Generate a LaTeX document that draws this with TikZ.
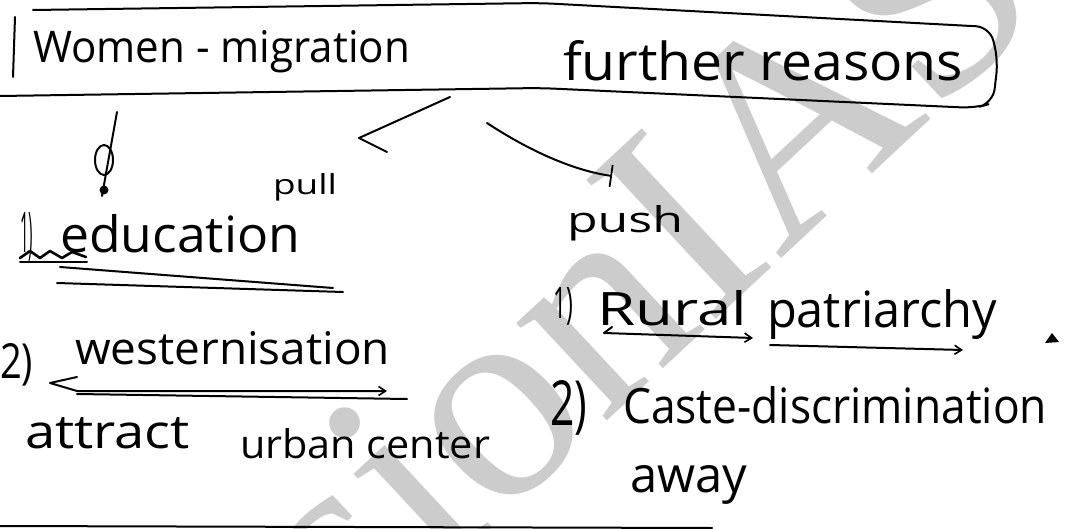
\documentclass[tikz,border=0pt]{standalone}
\usepackage{fontspec}
\setmainfont{Open Sans}
\newfontfamily\wmfont{Liberation Serif}
\usetikzlibrary{arrows.meta}
\newcommand{\fitwh}[3]{\resizebox{#1}{#2}{#3}}
\begin{document}
\begin{tikzpicture}[x=1pt,y=-1pt,
  hw/.style={anchor=base west, inner sep=0pt, outer sep=0pt, text=black},
  pen/.style={line width=2pt, line cap=round, line join=round, draw=black},
  tip/.style={-{Straight Barb[length=7pt,width=9pt,line width=1.6pt]}},
  wmark/.style={text=black!20, inner sep=0pt, font=\wmfont\fontsize{290}{290}\selectfont}]
\useasboundingbox (0,0) rectangle (1083,529);
\fill[white] (0,0) rectangle (1083,529);
% watermark
\node[wmark, rotate=43] (wm) at (539,356) {VisionIAS};
% title box
\node[hw] (t1) at (33,63) {\fitwh{377pt}{32pt}{Women - migration}};
\node[hw] (t2) at (563,81) {\fitwh{400pt}{40pt}{further reasons}};
\draw[pen, rounded corners=14pt] (33,10) -- (540,3) -- (990,27) -- (998,60) -- (993,103) -- (975,108) -- (540,88) -- (0,96);
\draw[pen] (15,17) -- (13,77);
% arrows to pull / push
\coordinate (a1s) at (450,97);
\coordinate (a1e) at (359,138);
\draw[pen] (a1s) -- (a1e) -- ++(28,14);
\coordinate (a2s) at (487,123);
\coordinate (a2e) at (612,176);
\draw[pen, -{Bar[width=22pt,line width=1.8pt]}] (a2s) .. controls (525,148) and (570,170) .. (a2e);
% pull column
\node[hw] (pull) at (273,195) {\fitwh{64pt}{21pt}{pull}};
\draw[pen] (117,112) -- (102,196);
\draw[pen] (104,160) ellipse [x radius=9, y radius=15];
\fill (104,190) circle [radius=4.5];
\node[hw] (p1n) at (20,253) {\fitwh{13pt}{40pt}{1)}};
\node[hw] (p1) at (60,252) {\fitwh{240pt}{38pt}{education}};
\draw[pen, line width=2.6pt] (20,258) -- (30,251) -- (40,258) -- (50,251) -- (62,258) -- (72,252) -- (86,257);
\draw[pen] (20,262) -- (87,262);
\draw[pen] (60,267) -- (333,288);
\draw[pen] (57,283) -- (343,292);
\node[hw] (p2n) at (0,378) {\fitwh{33pt}{35pt}{2)}};
\node[hw] (p2) at (75,364) {\fitwh{315pt}{33pt}{westernisation}};
\draw[pen, tip] (77,377) -- (50,383) -- (77,391) -- (387,391);
\draw[pen] (77,394) -- (407,399);
\node[hw] (p3a) at (25,448) {\fitwh{165pt}{31pt}{attract}};
\node[hw] (p3b) at (240,458) {\fitwh{250pt}{30pt}{urban center}};
% push column
\node[hw] (push) at (567,232) {\fitwh{116pt}{27pt}{push}};
\node[hw] (q1n) at (553,318) {\fitwh{20pt}{31pt}{1)}};
\node[hw] (q1a) at (597,325) {\fitwh{150pt}{35pt}{Rural}};
\node[hw] (q1b) at (767,327) {\fitwh{230pt}{38pt}{patriarchy}};
\draw[pen, tip] (612,327) -- (604,333) -- (753,338);
\draw[pen, tip] (770,345) -- (963,350);
\fill (1045,343) -- (1052,333) -- (1059,342) -- cycle;
\node[hw] (q2n) at (550,425) {\fitwh{37pt}{45pt}{2)}};
\node[hw] (q2) at (623,423) {\fitwh{424pt}{37pt}{Caste-discrimination}};
\node[hw] (q3) at (630,492) {\fitwh{117pt}{27pt}{away}};
% bottom rule
\draw[pen] (0,526) -- (712,528);
\end{tikzpicture}
\end{document}
